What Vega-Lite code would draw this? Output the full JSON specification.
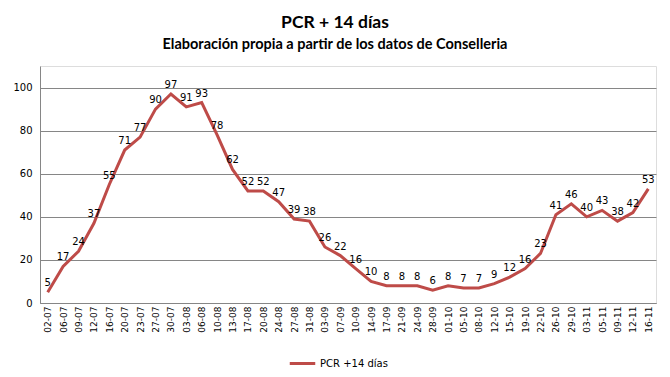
{
  "$schema": "https://vega.github.io/schema/vega-lite/v6.json",
  "width": 616,
  "height": 237,
  "autosize": {"type": "none"},
  "padding": {"left": 40, "top": 66, "right": 14, "bottom": 74},
  "background": "white",
  "title": {
    "text": "PCR + 14 días",
    "subtitle": "Elaboración propia a partir de los datos de Conselleria",
    "anchor": "middle",
    "dx": -13,
    "font": "Lato",
    "fontSize": 17.5,
    "fontWeight": "bold",
    "color": "black",
    "subtitleFont": "Lato",
    "subtitleFontSize": 14.5,
    "subtitleFontWeight": "bold",
    "subtitleColor": "black",
    "subtitlePadding": 6,
    "offset": 15
  },
  "data": {
    "values": [
      {"fecha": "02-07", "v": 5}, {"fecha": "06-07", "v": 17}, {"fecha": "09-07", "v": 24},
      {"fecha": "12-07", "v": 37}, {"fecha": "16-07", "v": 55}, {"fecha": "20-07", "v": 71},
      {"fecha": "23-07", "v": 77}, {"fecha": "27-07", "v": 90}, {"fecha": "30-07", "v": 97},
      {"fecha": "03-08", "v": 91}, {"fecha": "06-08", "v": 93}, {"fecha": "10-08", "v": 78},
      {"fecha": "13-08", "v": 62}, {"fecha": "17-08", "v": 52}, {"fecha": "20-08", "v": 52},
      {"fecha": "24-08", "v": 47}, {"fecha": "27-08", "v": 39}, {"fecha": "31-08", "v": 38},
      {"fecha": "03-09", "v": 26}, {"fecha": "07-09", "v": 22}, {"fecha": "10-09", "v": 16},
      {"fecha": "14-09", "v": 10}, {"fecha": "17-09", "v": 8}, {"fecha": "21-09", "v": 8},
      {"fecha": "24-09", "v": 8}, {"fecha": "28-09", "v": 6}, {"fecha": "01-10", "v": 8},
      {"fecha": "05-10", "v": 7}, {"fecha": "08-10", "v": 7}, {"fecha": "12-10", "v": 9},
      {"fecha": "15-10", "v": 12}, {"fecha": "19-10", "v": 16}, {"fecha": "22-10", "v": 23},
      {"fecha": "26-10", "v": 41}, {"fecha": "29-10", "v": 46}, {"fecha": "03-11", "v": 40},
      {"fecha": "05-11", "v": 43}, {"fecha": "09-11", "v": 38}, {"fecha": "12-11", "v": 42},
      {"fecha": "16-11", "v": 53}
    ]
  },
  "transform": [{"calculate": "'PCR +14 días'", "as": "serie"}],
  "encoding": {
    "x": {
      "field": "fecha",
      "type": "ordinal",
      "sort": null,
      "scale": {"type": "point", "padding": 0.5},
      "axis": {
        "title": null,
        "labelAngle": -90,
        "labelFont": "DejaVu Sans",
        "labelFontSize": 9,
        "labelColor": "black",
        "labelPadding": 3,
        "domainColor": "#868686",
        "ticks": false,
        "grid": false
      }
    },
    "y": {
      "field": "v",
      "type": "quantitative",
      "scale": {"domain": [0, 110], "nice": false},
      "axis": {
        "title": null,
        "values": [0, 20, 40, 60, 80, 100],
        "labelFont": "DejaVu Sans",
        "labelFontSize": 10,
        "labelColor": "black",
        "labelPadding": 8,
        "ticks": false,
        "domainColor": "#868686",
        "gridColor": "#868686",
        "gridWidth": 1
      }
    }
  },
  "layer": [
    {
      "mark": {"type": "line", "strokeWidth": 3},
      "encoding": {
        "color": {
          "field": "serie",
          "type": "nominal",
          "scale": {"range": ["#BE4B48"]},
          "legend": {
            "title": null,
            "orient": "none",
            "legendX": 248,
            "legendY": 283,
            "direction": "horizontal",
            "labelFont": "DejaVu Sans",
            "labelFontSize": 10,
            "labelColor": "black",
            "symbolType": "stroke",
            "symbolStrokeWidth": 3,
            "symbolSize": 650,
            "labelOffset": 3
          }
        }
      }
    },
    {
      "mark": {"type": "text", "dy": -9, "font": "DejaVu Sans", "fontSize": 10, "color": "black"},
      "encoding": {"text": {"field": "v", "type": "quantitative"}}
    }
  ]
}
